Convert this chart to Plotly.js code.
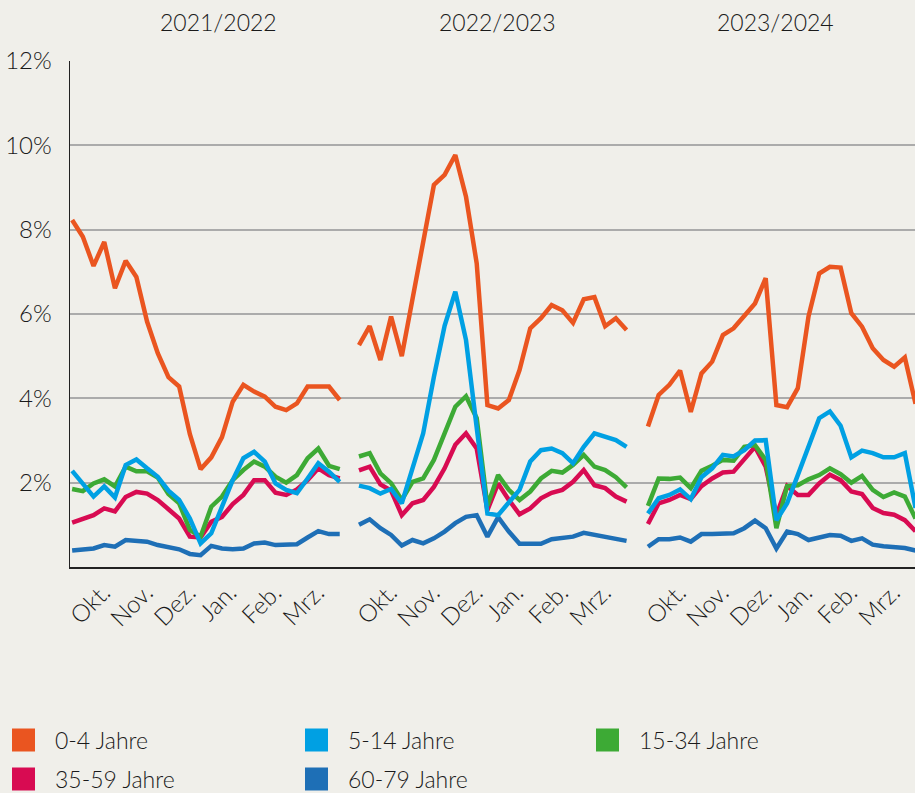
<!DOCTYPE html>
<html>
<head>
<meta charset="utf-8">
<script src="https://cdn.plot.ly/plotly-3.0.1.min.js"></script>
<style>
  html, body { margin: 0; padding: 0; background: #F0EFEA; }
  #chart { width: 915px; height: 793px; }
</style>
</head>
<body>
<div id="chart"></div>
<script>
// ---------- DATA ----------
const seasons = ['2021/2022', '2022/2023', '2023/2024'];
const monthLabels = ['Okt.', 'Nov.', 'Dez.', 'Jan.', 'Feb.', 'Mrz.'];
const seriesNames = ['0-4 Jahre', '5-14 Jahre', '15-34 Jahre', '35-59 Jahre', '60-79 Jahre'];

// weekly share (%) per age group, season 2021/2022
const age0_4_2122   = [8.23, 7.83, 7.14, 7.71, 6.61, 7.26, 6.88, 5.82, 5.07, 4.50, 4.28, 3.15, 2.32, 2.60, 3.08, 3.92, 4.32, 4.16, 4.04, 3.80, 3.72, 3.88, 4.28, 4.28, 4.28, 3.96];
const age5_14_2122  = [2.28, 1.98, 1.67, 1.91, 1.65, 2.42, 2.55, 2.34, 2.14, 1.81, 1.59, 1.15, 0.56, 0.80, 1.43, 2.06, 2.58, 2.73, 2.50, 1.98, 1.83, 1.75, 2.10, 2.46, 2.26, 2.02];
const age15_34_2122 = [1.85, 1.80, 1.98, 2.08, 1.91, 2.38, 2.27, 2.27, 2.12, 1.73, 1.51, 0.88, 0.72, 1.43, 1.67, 2.06, 2.30, 2.50, 2.38, 2.14, 2.00, 2.18, 2.58, 2.81, 2.40, 2.32];
const age35_59_2122 = [1.05, 1.15, 1.23, 1.39, 1.32, 1.66, 1.78, 1.74, 1.59, 1.37, 1.15, 0.72, 0.70, 1.07, 1.19, 1.49, 1.71, 2.06, 2.06, 1.76, 1.71, 1.84, 2.06, 2.34, 2.18, 2.10];
const age60_79_2122 = [0.39, 0.41, 0.44, 0.52, 0.48, 0.64, 0.62, 0.60, 0.52, 0.48, 0.42, 0.31, 0.28, 0.50, 0.44, 0.42, 0.44, 0.56, 0.58, 0.52, 0.52, 0.54, 0.70, 0.85, 0.78, 0.78];

// season 2022/2023
const age0_4_2223   = [5.26, 5.71, 4.91, 5.94, 5.00, 6.35, 7.70, 9.06, 9.30, 9.77, 8.78, 7.20, 3.84, 3.76, 3.96, 4.67, 5.66, 5.90, 6.21, 6.09, 5.79, 6.35, 6.40, 5.71, 5.90, 5.62];
const age5_14_2223  = [1.93, 1.87, 1.74, 1.85, 1.51, 2.30, 3.17, 4.51, 5.72, 6.53, 5.38, 3.30, 1.27, 1.23, 1.55, 1.83, 2.50, 2.77, 2.81, 2.70, 2.46, 2.85, 3.17, 3.09, 3.01, 2.85];
const age15_34_2223 = [2.62, 2.70, 2.22, 1.99, 1.59, 2.02, 2.10, 2.54, 3.17, 3.80, 4.05, 3.53, 1.45, 2.18, 1.83, 1.59, 1.79, 2.10, 2.28, 2.24, 2.42, 2.66, 2.38, 2.30, 2.13, 1.89];
const age35_59_2223 = [2.29, 2.38, 1.96, 1.81, 1.23, 1.51, 1.59, 1.90, 2.34, 2.90, 3.17, 2.81, 1.35, 1.98, 1.59, 1.25, 1.39, 1.63, 1.76, 1.83, 2.02, 2.30, 1.94, 1.87, 1.67, 1.55];
const age60_79_2223 = [1.00, 1.13, 0.92, 0.76, 0.51, 0.64, 0.56, 0.68, 0.84, 1.04, 1.19, 1.23, 0.72, 1.18, 0.84, 0.55, 0.55, 0.55, 0.66, 0.70, 0.72, 0.81, 0.76, 0.73, 0.66, 0.62];

// season 2023/2024
const age0_4_2324   = [3.33, 4.08, 4.32, 4.66, 3.68, 4.59, 4.87, 5.50, 5.66, 5.94, 6.25, 6.85, 3.84, 3.79, 4.24, 5.94, 6.96, 7.12, 7.10, 6.02, 5.70, 5.19, 4.91, 4.75, 4.97, 3.87];
const age5_14_2324  = [1.27, 1.63, 1.71, 1.84, 1.61, 2.13, 2.34, 2.66, 2.62, 2.77, 3.00, 3.01, 1.11, 1.51, 2.18, 2.85, 3.53, 3.69, 3.35, 2.60, 2.76, 2.70, 2.60, 2.60, 2.70, 1.40];
const age15_34_2324 = [1.45, 2.10, 2.09, 2.12, 1.87, 2.28, 2.40, 2.54, 2.52, 2.85, 2.89, 2.54, 0.92, 1.92, 1.94, 2.08, 2.18, 2.34, 2.20, 2.00, 2.16, 1.83, 1.66, 1.77, 1.67, 1.15];
const age35_59_2324 = [1.02, 1.51, 1.59, 1.71, 1.61, 1.92, 2.10, 2.24, 2.26, 2.54, 2.85, 2.38, 1.23, 1.92, 1.71, 1.71, 1.98, 2.19, 2.06, 1.79, 1.73, 1.40, 1.28, 1.24, 1.11, 0.85];
const age60_79_2324 = [0.48, 0.66, 0.66, 0.70, 0.60, 0.78, 0.78, 0.80, 0.80, 0.92, 1.10, 0.92, 0.44, 0.84, 0.78, 0.64, 0.71, 0.76, 0.74, 0.62, 0.68, 0.53, 0.49, 0.48, 0.45, 0.39];

const yTickValues = [2, 4, 6, 8, 10, 12];

// ---------- STYLE / LAYOUT ----------
const seriesColors = ['#EA5520', '#00A0E3', '#3DAA35', '#D80B52', '#1E6FB6'];
const bySeries = [
  [age0_4_2122, age0_4_2223, age0_4_2324],
  [age5_14_2122, age5_14_2223, age5_14_2324],
  [age15_34_2122, age15_34_2223, age15_34_2324],
  [age35_59_2122, age35_59_2223, age35_59_2324],
  [age60_79_2122, age60_79_2223, age60_79_2324]
];
const seasonStart = [0.2, 27, 54];     // slot where each season begins
const monthSlot = [2.9, 6.9, 10.9, 14.7, 18.9, 22.9];
const FONT = 'Lato, "Open Sans", sans-serif';
const W = 915, H = 793, ML = 70, MR = 0, MT = 61, MB = 226;
const plotW = W - ML - MR, plotH = H - MT - MB;
const px2x = p => (p - ML) / plotW;
const py2y = p => (H - MB - p) / plotH;

const traces = [];
const drawOrder = [4, 3, 2, 1, 0];
drawOrder.forEach(k => {
  const x = [], y = [];
  bySeries[k].forEach((vals, s) => {
    vals.forEach((v, i) => { x.push(seasonStart[s] + i); y.push(v); });
    x.push(null); y.push(null);
  });
  traces.push({
    type: 'scatter', mode: 'lines', x: x, y: y, name: seriesNames[k],
    connectgaps: false, showlegend: false, hoverinfo: 'skip',
    line: { color: seriesColors[k], width: 4.5, shape: 'linear' }
  });
});

const tickvals = [], ticktext = [];
seasonStart.forEach(s0 => monthSlot.forEach((m, j) => { tickvals.push(s0 + m); ticktext.push(monthLabels[j]); }));

const annotations = [];
const shapes = [];
const titleX = [218, 497, 775];
const txtFont = size => ({ family: FONT, size: size, color: '#1a1a1a', weight: 300 });
seasons.forEach((t, s) => annotations.push({
  xref: 'paper', yref: 'paper', x: px2x(titleX[s]), y: py2y(22),
  xanchor: 'center', yanchor: 'middle', showarrow: false, text: t,
  font: txtFont(23)
}));

// legend (3 columns)
const legCols = [12, 305, 596], legRows = [740, 779], sq = 23, textGap = 41;
seriesNames.forEach((n, k) => {
  const cx = legCols[k % 3], cy = legRows[Math.floor(k / 3)];
  shapes.push({
    type: 'rect', xref: 'paper', yref: 'paper', layer: 'above',
    x0: px2x(cx), x1: px2x(cx + sq), y0: py2y(cy - sq / 2), y1: py2y(cy + sq / 2),
    fillcolor: seriesColors[k], line: { width: 0 }
  });
  annotations.push({
    xref: 'paper', yref: 'paper', x: px2x(cx + textGap), y: py2y(cy),
    xanchor: 'left', yanchor: 'middle', showarrow: false, text: n,
    font: txtFont(23)
  });
});

const layout = {
  width: W, height: H,
  margin: { l: ML, r: MR, t: MT, b: MB, pad: 0 },
  paper_bgcolor: '#F0EFEA', plot_bgcolor: '#F0EFEA',
  showlegend: false,
  font: txtFont(20),
  xaxis: {
    range: [0, 78.95], tickmode: 'array', tickvals: tickvals, ticktext: ticktext,
    tickangle: -45, tickfont: txtFont(24), ticklabelstandoff: 0,
    showgrid: false, zeroline: false, showline: true, linecolor: '#222', linewidth: 2,
    ticks: '', fixedrange: true
  },
  yaxis: {
    range: [0, 12], tickmode: 'array', tickvals: yTickValues,
    ticktext: yTickValues.map(v => v + '%'),
    tickfont: txtFont(24),
    showgrid: true, gridcolor: '#ABABAB', gridwidth: 2,
    zeroline: false, showline: true, linecolor: '#222', linewidth: 1.5,
    ticks: '', ticklabelstandoff: 12, fixedrange: true
  },
  annotations: annotations,
  shapes: shapes
};

Plotly.newPlot('chart', traces, layout, { displayModeBar: false, staticPlot: true });
</script>
</body>
</html>
